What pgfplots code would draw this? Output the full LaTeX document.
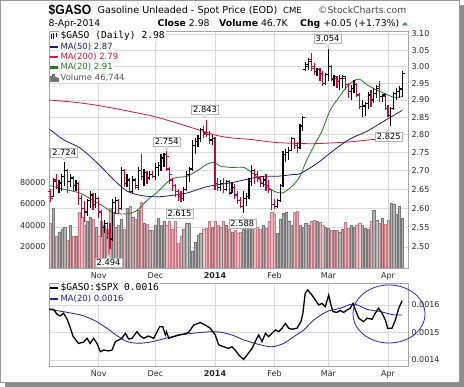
\documentclass[border=0pt]{standalone}
\usepackage{pgfplots}
\pgfplotsset{compat=1.18}
\usepackage{pgfplotstable}
\usepackage{fontspec}
\setmainfont{DejaVu Sans}
\newfontfamily\monof{DejaVu Sans Mono}
\newfontfamily\headf[FakeStretch=0.9]{Liberation Sans}

\definecolor{upc}{RGB}{0,0,0}
\definecolor{dnc}{RGB}{210,0,50}
\definecolor{mafifty}{RGB}{25,25,140}
\definecolor{matwohundred}{RGB}{215,20,60}
\definecolor{matwenty}{RGB}{30,125,30}
\definecolor{volup}{RGB}{178,178,178}
\definecolor{volupedge}{RGB}{120,120,120}
\definecolor{voldn}{RGB}{236,186,192}
\definecolor{voldnedge}{RGB}{205,120,130}
\definecolor{gridc}{RGB}{218,218,218}
\definecolor{framec}{RGB}{165,165,165}
\definecolor{ratioma}{RGB}{30,30,170}
\definecolor{ellc}{RGB}{40,40,215}
\definecolor{chgc}{RGB}{40,150,60}

\pgfkeys{/pgf/number format/assume math mode=true}

\pgfdeclareplotmark{otick}{\pgfpathmoveto{\pgfqpoint{-2.4pt}{0pt}}\pgfpathlineto{\pgfqpoint{0.5pt}{0pt}}\pgfusepathqstroke}
\pgfdeclareplotmark{ctick}{\pgfpathmoveto{\pgfqpoint{-0.5pt}{0pt}}\pgfpathlineto{\pgfqpoint{2.4pt}{0pt}}\pgfusepathqstroke}

\pgfplotstableread{
i o h l c v
2 2.63 2.68 2.63 2.672 56000
4 2.655 2.675 2.64 2.668 34000
5 2.665 2.69 2.645 2.685 36000
6 2.685 2.724 2.66 2.70 38000
8 2.67 2.69 2.655 2.68 40000
10 2.66 2.675 2.645 2.665 30000
14 2.59 2.625 2.58 2.62 44000
15 2.62 2.645 2.60 2.635 48000
17 2.61 2.64 2.60 2.625 38000
20 2.55 2.57 2.535 2.56 40000
23 2.52 2.625 2.515 2.615 52000
24 2.615 2.63 2.585 2.62 38000
26 2.60 2.71 2.595 2.70 46000
28 2.665 2.69 2.655 2.675 56000
30 2.645 2.685 2.64 2.675 48000
32 2.66 2.71 2.648 2.70 54000
34 2.685 2.705 2.66 2.695 42000
36 2.68 2.70 2.675 2.69 35000
38 2.685 2.72 2.675 2.71 40000
39 2.71 2.725 2.685 2.715 47000
40 2.715 2.745 2.70 2.735 40000
41 2.735 2.75 2.71 2.745 44000
48 2.625 2.655 2.62 2.65 36000
49 2.65 2.70 2.645 2.69 42000
50 2.69 2.71 2.67 2.705 42000
51 2.705 2.785 2.70 2.77 16000
52 2.77 2.79 2.745 2.78 24000
53 2.78 2.80 2.765 2.79 31000
54 2.79 2.82 2.78 2.815 33000
58 2.785 2.80 2.77 2.79 38000
61 2.655 2.675 2.645 2.665 38000
63 2.65 2.675 2.645 2.67 40000
65 2.64 2.67 2.64 2.655 34000
69 2.605 2.645 2.588 2.625 42000
70 2.625 2.64 2.605 2.63 38000
71 2.63 2.68 2.625 2.67 40000
72 2.67 2.715 2.66 2.70 44000
76 2.665 2.685 2.655 2.675 40000
81 2.605 2.625 2.60 2.62 33000
82 2.62 2.665 2.615 2.66 46000
83 2.66 2.755 2.655 2.745 51000
84 2.745 2.76 2.725 2.75 52000
85 2.75 2.765 2.73 2.755 44000
86 2.755 2.795 2.755 2.79 40000
89 2.765 2.83 2.76 2.825 40000
90 2.825 2.855 2.81 2.85 38000
91 2.99 3.015 2.985 3.005 42000
92 3.00 3.025 2.99 3.015 40000
95 2.985 2.995 2.97 2.99 44000
98 2.95 2.98 2.945 2.975 38000
99 2.975 3.054 2.955 3.00 37000
101 2.96 2.975 2.94 2.97 35000
103 2.955 2.975 2.93 2.965 34000
104 2.965 2.975 2.935 2.97 36000
107 2.925 2.945 2.90 2.935 40000
108 2.935 2.96 2.92 2.945 38000
111 2.88 2.90 2.85 2.885 40000
112 2.88 2.895 2.855 2.89 37000
113 2.89 2.925 2.875 2.915 36000
115 2.90 2.935 2.89 2.92 54000
116 2.92 2.945 2.905 2.935 45000
118 2.91 2.915 2.895 2.915 47000
121 2.855 2.88 2.825 2.875 61000
122 2.875 2.925 2.87 2.92 60000
123 2.92 2.935 2.90 2.925 50000
124 2.925 2.94 2.905 2.93 58000
125 2.935 2.985 2.91 2.98 46744
}\upbars

\pgfplotstableread{
i o h l c v
1 2.645 2.652 2.616 2.625 42000
3 2.675 2.69 2.65 2.66 30000
7 2.70 2.705 2.64 2.67 26000
9 2.68 2.685 2.645 2.66 30000
11 2.665 2.67 2.608 2.625 52000
12 2.625 2.635 2.575 2.60 48000
13 2.60 2.62 2.565 2.59 40000
16 2.635 2.64 2.595 2.61 46000
18 2.625 2.63 2.575 2.59 30000
19 2.59 2.595 2.525 2.55 44000
21 2.56 2.565 2.52 2.535 36000
22 2.535 2.56 2.494 2.52 56000
25 2.62 2.625 2.585 2.60 40000
27 2.70 2.705 2.655 2.665 36000
29 2.675 2.68 2.64 2.645 58000
31 2.675 2.68 2.65 2.655 46000
33 2.70 2.745 2.675 2.685 62000
35 2.695 2.70 2.665 2.68 41000
37 2.69 2.70 2.68 2.685 35000
42 2.745 2.754 2.70 2.74 40000
43 2.705 2.71 2.665 2.69 44000
44 2.675 2.68 2.645 2.66 36000
45 2.66 2.665 2.63 2.645 44000
46 2.645 2.65 2.62 2.63 23000
47 2.63 2.645 2.615 2.625 30000
55 2.815 2.825 2.79 2.805 36000
56 2.80 2.843 2.795 2.80 37000
57 2.80 2.81 2.775 2.785 44000
59 2.79 2.795 2.648 2.665 44000
60 2.665 2.68 2.645 2.655 40000
62 2.665 2.68 2.64 2.65 44000
64 2.67 2.675 2.635 2.64 36000
66 2.655 2.665 2.625 2.635 35000
67 2.635 2.645 2.61 2.62 33000
68 2.62 2.63 2.60 2.605 34000
73 2.70 2.705 2.665 2.69 40000
74 2.69 2.70 2.67 2.68 38000
75 2.68 2.685 2.655 2.665 36000
77 2.675 2.69 2.645 2.66 37000
78 2.66 2.675 2.64 2.65 44000
79 2.65 2.65 2.595 2.61 52000
80 2.61 2.625 2.598 2.605 50000
87 2.79 2.79 2.76 2.77 52000
88 2.77 2.78 2.75 2.765 53000
93 3.02 3.04 2.985 2.995 44000
94 3.00 3.01 2.975 2.985 45000
96 2.99 2.995 2.955 2.98 43000
97 2.975 2.985 2.94 2.95 40000
100 3.00 3.005 2.955 2.965 35000
102 2.965 2.97 2.935 2.955 35000
105 2.965 2.97 2.93 2.945 43000
106 2.945 2.95 2.905 2.925 37000
109 2.945 2.95 2.91 2.915 40000
110 2.915 2.92 2.875 2.88 42000
114 2.915 2.93 2.88 2.90 44000
117 2.94 2.955 2.895 2.91 42000
119 2.91 2.92 2.87 2.875 41000
120 2.875 2.885 2.85 2.855 45000
}\dnbars

\pgfplotsset{
  panel/.style={scale only axis, width=359pt, xmin=0.48, xmax=127.06,
    axis line style={framec}, tick style={draw=none},
    ticklabel style={font=\fontsize{8}{9}\selectfont, text=black!85}},
}
\tikzset{lbl/.style={rectangle, draw=black!30, fill=white,
   font=\fontsize{8.3}{9}\selectfont, inner xsep=1.6pt, inner ysep=1.4pt},
   lblp/.style={fill=white, draw=black!30}}

\begin{document}
\begin{tikzpicture}
\useasboundingbox (0,0) rectangle (464pt,387pt);
\fill[black!45] (5pt,0pt) rectangle (464pt,382pt);
\filldraw[fill=white, draw=black!40] (0.5pt,4.5pt) rectangle (459.5pt,386.5pt);

% header
\node[anchor=base west, inner sep=0pt, font=\headf\bfseries\fontsize{13.5}{14}\selectfont] at (48.5pt,372.3pt) {\$GASO};
\node[anchor=base west, inner sep=0pt, font=\fontsize{9.6}{11}\selectfont] at (97.5pt,373pt) {Gasoline Unleaded - Spot Price (EOD)};
\node[anchor=base west, inner sep=0pt, font=\fontsize{8.5}{10}\selectfont] at (283pt,373pt) {CME};
\node[anchor=base west, inner sep=0pt, font=\fontsize{9.3}{10}\selectfont, text=black!70] at (318pt,373pt) {\textcopyright StockCharts.com};
\node[anchor=base west, inner sep=0pt, font=\fontsize{9.3}{10}\selectfont] at (48.5pt,360.5pt) {8-Apr-2014};
\node[anchor=base west, inner sep=0pt, font=\fontsize{9.3}{10}\selectfont] at (157.5pt,360.5pt) {\textbf{Close} 2.98};
\node[anchor=base west, inner sep=0pt, font=\fontsize{9.3}{10}\selectfont] at (219pt,360.5pt) {\textbf{Volume} 46.7K};
\node[anchor=base west, inner sep=0pt, font=\fontsize{9.3}{10}\selectfont] at (300pt,360.5pt) {\textbf{Chg} +0.05 (+1.73\%)};
\fill[chgc] (402pt,361.5pt) -- (408pt,361.5pt) -- (405pt,365pt) -- cycle;

% price frame, grid and ticks
\begin{axis}[panel, ymode=log, ymin=2.4475, ymax=3.1094, height=237pt, at={(49pt,119pt)}, anchor=south west,
  ytick={2.50,2.55,2.60,2.65,2.70,2.75,2.80,2.85,2.90,2.95,3.00,3.05,3.10},
  yticklabel={\pgfmathparse{exp(\tick)}\pgfmathprintnumber[fixed,fixed zerofill,precision=2]{\pgfmathresult}},
  yticklabel pos=right,
  xtick={18,38,59,80,99,120}, xticklabels={Nov,Dec,\textbf{2014},Feb,Mar,Apr},
  xticklabel style={yshift=-1pt},
  grid=major, major grid style={gridc, line width=0.6pt}]
\addplot[draw=none, forget plot] coordinates {(1,2.6)};
\end{axis}

% volume
\begin{axis}[panel, height=237pt, at={(49pt,119pt)}, anchor=south west,
  ymin=0, ymax=222200, ytick={20000,40000,60000,80000}, yticklabel pos=left,
  xtick=\empty, axis line style={draw=none}, scaled y ticks=false,
  yticklabel style={/pgf/number format/1000 sep={}}]
\addplot[ybar, bar width=2.2pt, bar shift=0pt, fill=voldn, draw=voldnedge, line width=0.4pt] table[x=i,y=v]{\dnbars};
\addplot[ybar, bar width=2.2pt, bar shift=0pt, fill=volup, draw=volupedge, line width=0.4pt] table[x=i,y=v]{\upbars};
\end{axis}

% price data
\begin{axis}[panel, ymode=log, ymin=2.4475, ymax=3.1094, height=237pt, at={(49pt,119pt)}, anchor=south west, hide axis, clip=false,
  legend cell align=left,
  legend style={at={(0,1)}, anchor=north west, draw=none, fill=none, inner sep=0pt,
    row sep=0pt, column sep=0pt, font=\fontsize{8.5}{10}\selectfont,
    nodes={fill=white, inner xsep=1.2pt, inner ysep=1pt, text height=6.6pt, text depth=1.8pt}}]
\addlegendimage{legend image code/.code={\draw[black,line width=0.6pt] (1pt,-3pt)--(1pt,2pt) (1pt,-1pt)--(2pt,-1pt) (3.5pt,-3pt)--(3.5pt,3.5pt) (2.5pt,1pt)--(3.5pt,1pt) (6pt,-1pt)--(6pt,3.5pt) (6pt,2pt)--(7pt,2pt);}}
\addlegendentry{{\monof\fontsize{9.6}{10}\selectfont \$GASO (Daily) 2.98}}
\addlegendimage{legend image code/.code={\draw[mafifty,line width=2.2pt] (0pt,0pt)--(8pt,0pt);}}
\addlegendentry{\textcolor{mafifty}{MA(50) 2.87}}
\addlegendimage{legend image code/.code={\draw[matwohundred,line width=2.2pt] (0pt,0pt)--(8pt,0pt);}}
\addlegendentry{\textcolor{matwohundred}{MA(200) 2.79}}
\addlegendimage{legend image code/.code={\draw[matwenty,line width=2.2pt] (0pt,0pt)--(8pt,0pt);}}
\addlegendentry{\textcolor{matwenty}{MA(20) 2.91}}
\addlegendimage{legend image code/.code={\fill[black!55] (0pt,-3pt) rectangle (1.5pt,2pt) (2pt,-3pt) rectangle (3.5pt,3.5pt) (4pt,-3pt) rectangle (5.5pt,1pt) (6pt,-3pt) rectangle (7.5pt,0pt);}}
\addlegendentry{\textcolor{black!65}{Volume 46,744}}

\addplot[matwohundred, line width=0.8pt, smooth, forget plot] coordinates {
(0.5,2.90) (10,2.893) (18.5,2.883) (27,2.87) (36.1,2.855) (42,2.842) (47.7,2.828) (54,2.812) (59.7,2.798) (65,2.791) (71.4,2.787) (80.9,2.778) (92.5,2.775) (100,2.777) (106.6,2.78) (115.4,2.787) (125,2.79)};
\addplot[mafifty, line width=0.8pt, smooth, forget plot] coordinates {
(0.8,2.815) (5.8,2.785) (11.4,2.763) (17.4,2.722) (23.4,2.675) (28,2.645) (33.3,2.633) (38.6,2.63) (43.1,2.633) (49.1,2.64) (55.1,2.655) (59.7,2.662) (65,2.668) (74.9,2.684) (80.9,2.685) (86.9,2.69) (89,2.692) (95,2.72) (100.6,2.755) (106.6,2.788) (112.6,2.81) (118.4,2.838) (125,2.87)};
\addplot[matwenty, line width=0.8pt, smooth, forget plot] coordinates {
(0.8,2.66) (5.8,2.65) (11.4,2.64) (14.9,2.625) (18.5,2.61) (23.4,2.588) (28,2.585) (31.5,2.594) (35,2.62) (38.6,2.642) (41,2.66) (43.1,2.675) (45.6,2.682) (49.1,2.685) (52.7,2.70) (56.2,2.718) (58.7,2.723) (60.8,2.713) (65,2.709) (69.2,2.709) (72.8,2.69) (76.3,2.663) (79.8,2.645) (82.6,2.64) (85.4,2.653) (88.6,2.68) (91.4,2.73) (94.3,2.775) (96.7,2.81) (99.6,2.87) (102.5,2.905) (104.6,2.93) (107.1,2.952) (109.8,2.962) (112.6,2.945) (115.4,2.932) (118.6,2.92) (122.1,2.908) (125,2.91)};

\addplot[dnc, only marks, mark=otick, mark options={line width=1.2pt, dnc}, forget plot,
  error bars/.cd, y dir=both, y explicit, error mark=none, error bar style={line width=1.2pt, dnc}]
  table[x=i, y=o, y error plus expr=\thisrow{h}-\thisrow{o}, y error minus expr=\thisrow{o}-\thisrow{l}] {\dnbars};
\addplot[dnc, only marks, mark=ctick, mark options={line width=1.2pt, dnc}, forget plot] table[x=i, y=c] {\dnbars};
\addplot[upc, only marks, mark=otick, mark options={line width=1.2pt, upc}, forget plot,
  error bars/.cd, y dir=both, y explicit, error mark=none, error bar style={line width=1.2pt, upc}]
  table[x=i, y=o, y error plus expr=\thisrow{h}-\thisrow{o}, y error minus expr=\thisrow{o}-\thisrow{l}] {\upbars};
\addplot[upc, only marks, mark=ctick, mark options={line width=1.2pt, upc}, forget plot] table[x=i, y=c] {\upbars};

% high labels
\node[lbl, anchor=south, yshift=5pt, xshift=-0.5pt] (ha) at (axis cs:6,2.724) {2.724};
\filldraw[lblp] ([xshift=-2.5pt,yshift=0.3pt]ha.south) -- ([yshift=-3.3pt]ha.south) -- ([xshift=2.5pt,yshift=0.3pt]ha.south);
\node[lbl, anchor=south, yshift=4.5pt] (hb) at (axis cs:42,2.754) {2.754};
\filldraw[lblp] ([xshift=-2.5pt,yshift=0.3pt]hb.south) -- ([yshift=-3.3pt]hb.south) -- ([xshift=2.5pt,yshift=0.3pt]hb.south);
\node[lbl, anchor=south, yshift=5.5pt, xshift=-1.5pt] (hc) at (axis cs:56,2.843) {2.843};
\filldraw[lblp] ([xshift=-2.5pt,yshift=0.3pt]hc.south) -- ([yshift=-3.3pt]hc.south) -- ([xshift=2.5pt,yshift=0.3pt]hc.south);
\node[lbl, anchor=south, yshift=5.5pt, xshift=-0.8pt] (hd) at (axis cs:99,3.054) {3.054};
\filldraw[lblp] ([xshift=-2.5pt,yshift=0.3pt]hd.south) -- ([yshift=-3.3pt]hd.south) -- ([xshift=2.5pt,yshift=0.3pt]hd.south);
% low labels
\node[lbl, anchor=north, yshift=-8.5pt, xshift=-1.5pt] (la) at (axis cs:22,2.494) {2.494};
\filldraw[lblp] ([xshift=-2.5pt,yshift=-0.3pt]la.north) -- ([yshift=3.3pt]la.north) -- ([xshift=2.5pt,yshift=-0.3pt]la.north);
\node[lbl, anchor=north, yshift=-6.5pt, xshift=-1.5pt] (lb) at (axis cs:47,2.615) {2.615};
\filldraw[lblp] ([xshift=-2.5pt,yshift=-0.3pt]lb.north) -- ([yshift=3.3pt]lb.north) -- ([xshift=2.5pt,yshift=-0.3pt]lb.north);
\node[lbl, anchor=north, yshift=-6pt, xshift=-1pt] (lc) at (axis cs:69,2.588) {2.588};
\filldraw[lblp] ([xshift=-2.5pt,yshift=-0.3pt]lc.north) -- ([yshift=3.3pt]lc.north) -- ([xshift=2.5pt,yshift=-0.3pt]lc.north);
\node[lbl, anchor=north, yshift=-6pt, xshift=-2pt] (ld) at (axis cs:121,2.825) {2.825};
\filldraw[lblp] ([xshift=-2.5pt,yshift=-0.3pt]ld.north) -- ([yshift=3.3pt]ld.north) -- ([xshift=2.5pt,yshift=-0.3pt]ld.north);
\end{axis}

% lower panel
\begin{axis}[panel, height=83pt, at={(49pt,21pt)}, anchor=south west,
  ymin=13.78, ymax=16.8, ytick={14,15,16}, yticklabels={0.0014,0.0015,0.0016},
  yticklabel pos=right,
  xtick={18,38,59,80,99,120}, xticklabels={Nov,Dec,\textbf{2014},Feb,Mar,Apr},
  xticklabel style={yshift=-1pt},
  grid=major, major grid style={gridc, line width=0.6pt},
  legend cell align=left,
  legend style={at={(0,1)}, anchor=north west, draw=none, fill=none, inner sep=0pt,
    row sep=0pt, column sep=0pt, font=\fontsize{8.5}{10}\selectfont,
    nodes={fill=white, inner xsep=1.2pt, inner ysep=1pt, text height=6.6pt, text depth=1.8pt}}]
\addlegendimage{legend image code/.code={\draw[black,line width=2.2pt] (0pt,0pt)--(8pt,0pt);}}
\addlegendentry{{\monof\fontsize{9.6}{10}\selectfont \$GASO:\$SPX 0.0016}}
\addlegendimage{legend image code/.code={\draw[ratioma,line width=2.2pt] (0pt,0pt)--(8pt,0pt);}}
\addlegendentry{\textcolor{ratioma}{MA(20) 0.0016}}
\addplot[ratioma, line width=0.8pt, smooth, forget plot] coordinates {
(0.4,15.84) (11.5,15.64) (17.4,15.39) (20.9,15.15) (28.0,14.67) (35.0,14.63) (46.8,14.91) (58.6,15.03) (64.9,14.91) (69.1,14.73) (75.0,14.55) (79.1,14.48) (83.2,14.6) (86.8,14.85) (90.3,15.09) (93.8,15.45) (98.5,15.76) (103.2,15.88) (107.9,16.04) (112.6,15.84) (117.3,15.76) (122.0,15.64) (125,15.64)};
\addplot[black, line width=1.3pt, forget plot] coordinates {
(0.5,15.84) (2.1,15.84) (3.3,15.66) (4.4,15.6) (5.6,15.7) (6.8,15.5) (7.9,15.2) (9.0,14.85) (10.9,14.6) (12.7,14.65) (13.9,14.79) (15.0,14.6) (16.2,14.79) (17.4,14.6) (18.6,14.3) (19.8,14.36) (21.5,14.33) (22.7,14.36) (23.9,14.67) (25.1,14.73) (26.2,14.79) (27.4,14.97) (28.6,14.76) (29.8,14.79) (31.5,15.03) (32.7,14.87) (33.9,14.79) (35.6,14.87) (37.4,14.79) (38.6,15.03) (39.5,15.21) (40.6,15.21) (41.5,14.91) (41.9,15.03) (42.7,14.79) (44.5,14.85) (46.2,14.91) (48.0,14.94) (49.7,15.0) (51.5,15.27) (53.8,15.36) (55.6,15.27) (57.4,15.15) (59.1,14.91) (60.3,14.55) (62.1,14.48) (63.8,14.42) (65.0,14.48) (66.1,14.36) (67.4,14.18) (69.1,14.02) (70.3,14.18) (72.1,14.42) (73.2,14.67) (74.4,14.91) (75.6,14.67) (76.8,14.97) (77.9,14.85) (79.1,14.97) (80.3,15.09) (81.5,15.03) (82.6,15.15) (83.8,15.33) (85.0,15.15) (86.2,15.12) (87.9,15.15) (89.3,15.39) (90.0,15.7) (90.8,16.42) (91.7,16.55) (93.2,16.36) (94.4,16.18) (95.6,16.0) (96.7,16.06) (97.9,15.94) (99.1,16.36) (99.9,16.0) (100.6,15.76) (102.0,15.73) (103.2,15.8) (104.4,15.73) (105.6,15.82) (106.7,15.88) (107.7,16.06) (108.5,15.82) (109.7,15.52) (111.4,15.39) (112.6,15.52) (114.4,15.48) (115.5,15.7) (116.7,15.88) (117.9,15.7) (119.1,15.45) (119.9,15.15) (121.4,15.15) (122.6,15.45) (123.8,15.88) (125.0,16.16)};
\end{axis}

\draw[ellc, line width=0.8pt] (389pt,73pt) ellipse [x radius=36pt, y radius=29pt];
\end{tikzpicture}
\end{document}
